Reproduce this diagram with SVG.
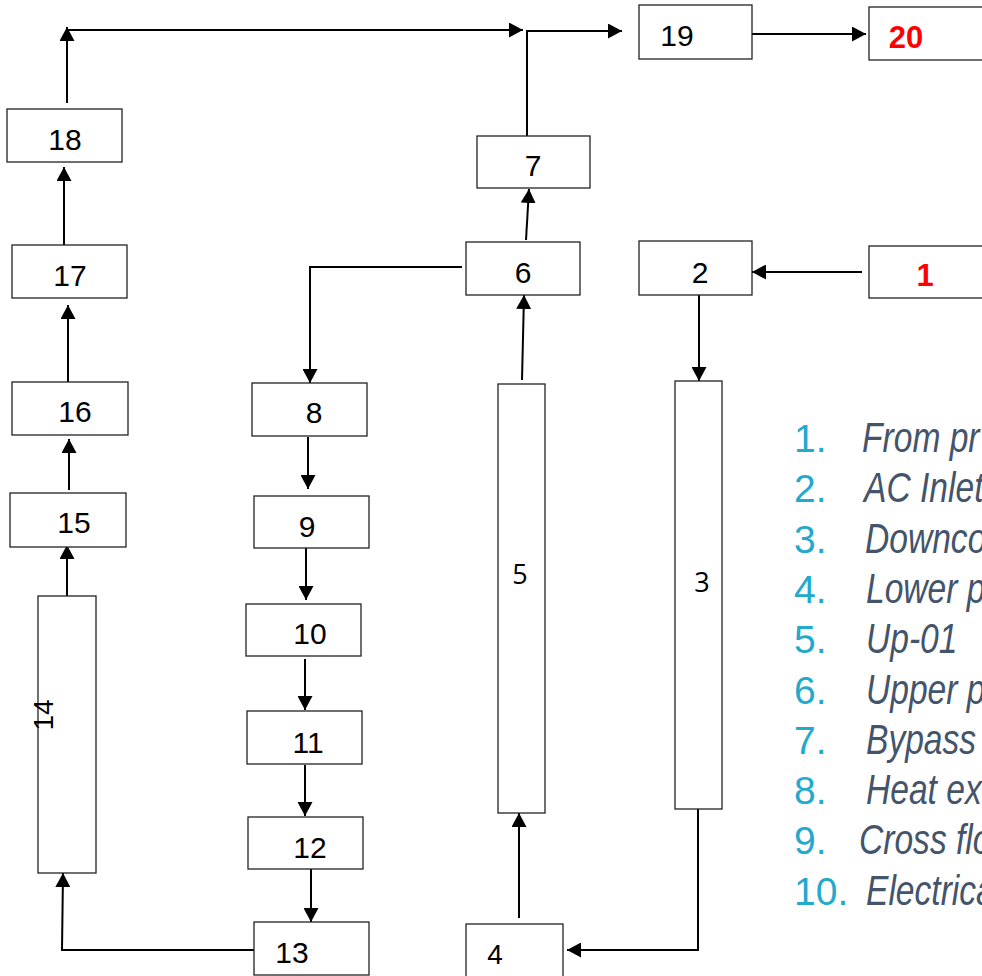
<svg xmlns="http://www.w3.org/2000/svg" width="982" height="976" viewBox="0 0 982 976">
<style>
.box{fill:#fff;stroke:#222;stroke-width:1.3}
.lbl{font-family:"Liberation Sans",Arial,sans-serif;font-size:30px;fill:#000;text-anchor:middle}
.red{font-family:"Liberation Sans",Arial,sans-serif;font-size:31px;font-weight:bold;fill:#ff0000;text-anchor:middle}
.col{font-family:"Open Sans",sans-serif;font-size:27px;fill:#000;text-anchor:middle}
.ln{fill:none;stroke:#000;stroke-width:2}
.num{font-family:"Liberation Sans",Arial,sans-serif;font-size:39px;fill:#22a9cc}
.it{font-family:"Liberation Sans",Arial,sans-serif;font-size:42px;font-style:italic;fill:#44546a}
</style>
<defs>
<marker id="ah" markerUnits="userSpaceOnUse" markerWidth="15" markerHeight="15" refX="14" refY="7.5" orient="auto">
<path d="M0,0 L14,7.5 L0,15 Z" fill="#000"/>
</marker>
</defs>
<rect width="982" height="976" fill="#fff"/>
<g id="connectors">
<path class="ln" d="M67,103 L67,27" marker-end="url(#ah)"/>
<path class="ln" d="M67,30 L523,30" marker-end="url(#ah)"/>
<path class="ln" d="M527,136 L527,31 L622,31" marker-end="url(#ah)"/>
<path class="ln" d="M752,34 L866,34" marker-end="url(#ah)"/>
<path class="ln" d="M526,240 L529,189" marker-end="url(#ah)"/>
<path class="ln" d="M862,272 L752,272" marker-end="url(#ah)"/>
<path class="ln" d="M462,267 L310,267 L310,383" marker-end="url(#ah)"/>
<path class="ln" d="M522,380 L524,295" marker-end="url(#ah)"/>
<path class="ln" d="M699,293 L699,381" marker-end="url(#ah)"/>
<path class="ln" d="M519,918 L519,813" marker-end="url(#ah)"/>
<path class="ln" d="M698,809 L698,950 L567,950" marker-end="url(#ah)"/>
<path class="ln" d="M308,437 L308,489" marker-end="url(#ah)"/>
<path class="ln" d="M306,548 L306,600" marker-end="url(#ah)"/>
<path class="ln" d="M305,659 L305,710" marker-end="url(#ah)"/>
<path class="ln" d="M305,765 L305,816" marker-end="url(#ah)"/>
<path class="ln" d="M311,863 L311,922" marker-end="url(#ah)"/>
<path class="ln" d="M254,950 L62,950 L63,873" marker-end="url(#ah)"/>
<path class="ln" d="M67,596 L67,545" marker-end="url(#ah)"/>
<path class="ln" d="M69,490 L69,439" marker-end="url(#ah)"/>
<path class="ln" d="M68,382 L68,305" marker-end="url(#ah)"/>
<path class="ln" d="M64,245 L64,167" marker-end="url(#ah)"/>
</g>
<g id="n18"><rect class="box" x="7" y="109" width="115" height="53"/><text class="lbl" x="65" y="150">18</text></g>
<g id="n17"><rect class="box" x="12" y="245" width="115" height="53"/><text class="lbl" x="70" y="286">17</text></g>
<g id="n16"><rect class="box" x="12" y="382" width="116" height="53"/><text class="lbl" x="75" y="422">16</text></g>
<g id="n15"><rect class="box" x="10" y="493" width="116" height="54"/><text class="lbl" x="74" y="533">15</text></g>
<g id="n14"><rect class="box" x="38" y="596" width="58" height="277"/><text class="lbl" style="font-size:28px" transform="translate(53,715) rotate(-90)">14</text></g>
<g id="n8"><rect class="box" x="252" y="383" width="115" height="53"/><text class="lbl" x="314" y="423">8</text></g>
<g id="n9"><rect class="box" x="254" y="496" width="115" height="52"/><text class="lbl" x="307" y="537">9</text></g>
<g id="n10"><rect class="box" x="246" y="604" width="115" height="52"/><text class="lbl" x="310" y="644">10</text></g>
<g id="n11"><rect class="box" x="247" y="711" width="115" height="53"/><text class="lbl" x="308" y="753">11</text></g>
<g id="n12"><rect class="box" x="248" y="817" width="115" height="52"/><text class="lbl" x="310" y="858">12</text></g>
<g id="n13"><rect class="box" x="254" y="922" width="115" height="53"/><text class="lbl" x="292" y="963">13</text></g>
<g id="n7"><rect class="box" x="477" y="136" width="113" height="52"/><text class="lbl" x="533" y="176">7</text></g>
<g id="n6"><rect class="box" x="466" y="242" width="114" height="53"/><text class="lbl" x="523" y="283">6</text></g>
<g id="n19"><rect class="box" x="639" y="5" width="113" height="54"/><text class="lbl" x="677" y="46">19</text></g>
<g id="n20"><rect class="box" x="869" y="7" width="125" height="53"/><text class="red" x="906" y="48">20</text></g>
<g id="n2"><rect class="box" x="639" y="241" width="113" height="54"/><text class="lbl" x="700" y="283">2</text></g>
<g id="n1"><rect class="box" x="869" y="246" width="125" height="52"/><text class="red" x="925" y="286">1</text></g>
<g id="n5"><rect class="box" x="498" y="384" width="47" height="429"/><text class="col" x="520" y="584">5</text></g>
<g id="n3"><rect class="box" x="675" y="381" width="47" height="428"/><text class="col" x="702" y="592">3</text></g>
<g id="n4"><rect class="box" x="466" y="924" width="97" height="60"/><text class="lbl" style="font-size:28px" x="495" y="964">4</text></g>
<g id="legend">
<text class="num" x="794" y="452">1.</text>
<text class="num" x="794" y="502">2.</text>
<text class="num" x="794" y="553">3.</text>
<text class="num" x="794" y="603">4.</text>
<text class="num" x="794" y="653">5.</text>
<text class="num" x="794" y="704">6.</text>
<text class="num" x="794" y="754">7.</text>
<text class="num" x="794" y="804">8.</text>
<text class="num" x="794" y="854">9.</text>
<text class="num" x="794" y="905">10.</text>
<text class="it" transform="translate(862,452) scale(0.8,1)">From pr</text>
<text class="it" transform="translate(864,502) scale(0.8,1)">AC Inlet</text>
<text class="it" transform="translate(865,553) scale(0.8,1)">Downco</text>
<text class="it" transform="translate(866,603) scale(0.8,1)">Lower p</text>
<text class="it" transform="translate(866,653) scale(0.8,1)">Up-01</text>
<text class="it" transform="translate(866,704) scale(0.8,1)">Upper p</text>
<text class="it" transform="translate(866,754) scale(0.8,1)">Bypass</text>
<text class="it" transform="translate(866,804) scale(0.8,1)">Heat ex</text>
<text class="it" transform="translate(859,854) scale(0.8,1)">Cross flo</text>
<text class="it" transform="translate(866,905) scale(0.8,1)">Electrica</text>
</g>
</svg>
